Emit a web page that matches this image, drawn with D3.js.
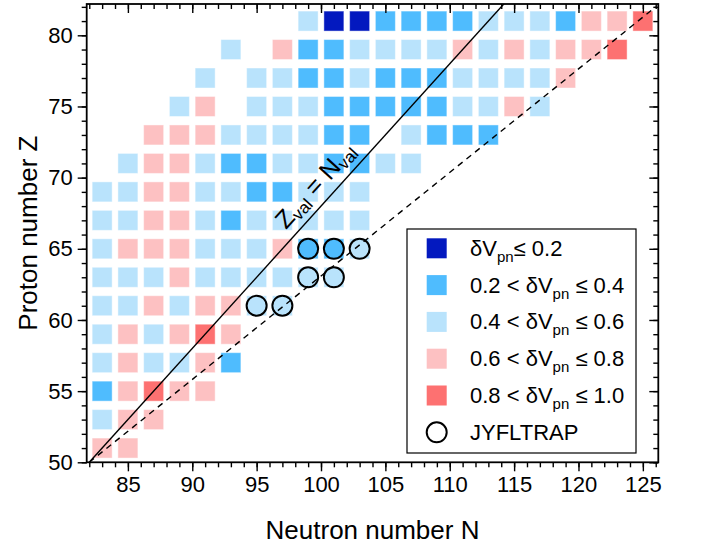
<!DOCTYPE html>
<html>
<head>
<meta charset="utf-8">
<script src="https://cdn.jsdelivr.net/npm/d3@7/dist/d3.min.js"></script>
<style>
  body { margin: 0; background: #fff; }
  svg { display: block; }
  text { font-family: "Liberation Sans", Arial, Helvetica, sans-serif; fill: #000; }
</style>
</head>
<body>
<svg id="chart" width="705" height="546"></svg>
<script>
// δVpn classes: 0 = ≤0.2, 1 = 0.2–0.4, 2 = 0.4–0.6, 3 = 0.6–0.8, 4 = 0.8–1.0
const binColors = ["#0319bf", "#4fbcfe", "#b9e3fc", "#fdc1c2", "#fd7171"];
const binLabels = [
  { pre: "δV", sub: "pn", post: "≤ 0.2" },
  { pre: "0.2 < δV", sub: "pn", post: " ≤ 0.4" },
  { pre: "0.4 < δV", sub: "pn", post: " ≤ 0.6" },
  { pre: "0.6 < δV", sub: "pn", post: " ≤ 0.8" },
  { pre: "0.8 < δV", sub: "pn", post: " ≤ 1.0" }
];

// Proton numbers of the rows and, for each row, [N, class] pairs
const rowZ = [81, 79, 77, 75, 73, 71, 69, 67, 65, 63, 61, 59, 57, 55, 53, 51];
const rowCells = [
  [[99,2],[101,0],[103,0],[105,1],[107,1],[109,1],[111,1],[113,2],[115,2],[117,2],[119,1],[121,3],[123,3],[125,4]],
  [[93,2],[97,3],[99,1],[101,1],[103,2],[105,2],[107,2],[109,2],[111,3],[113,2],[115,3],[117,2],[119,3],[121,3],[123,4]],
  [[91,2],[95,2],[97,2],[99,1],[101,1],[103,2],[105,1],[107,1],[109,1],[111,2],[113,2],[115,2],[117,2],[119,3]],
  [[89,2],[91,3],[95,2],[97,2],[99,2],[101,1],[103,1],[105,1],[107,1],[109,1],[111,2],[113,2],[115,3],[117,2]],
  [[87,3],[89,3],[91,3],[93,2],[95,2],[97,2],[99,2],[101,1],[103,1],[107,2],[109,1],[111,1],[113,1]],
  [[85,2],[87,3],[89,3],[91,2],[93,1],[95,1],[97,2],[99,2],[101,1],[103,1],[105,2],[107,2]],
  [[83,2],[85,2],[87,3],[89,3],[91,2],[93,2],[95,1],[97,1],[99,2],[101,2],[103,2]],
  [[83,2],[85,2],[87,3],[89,3],[91,2],[93,1],[95,2],[97,2],[99,2],[101,2],[103,2]],
  [[83,2],[85,3],[87,3],[89,3],[91,2],[93,2],[95,2],[97,3],[99,1],[101,1],[103,2]],
  [[83,2],[85,2],[87,2],[89,3],[91,2],[93,2],[95,2],[97,2],[99,2],[101,2]],
  [[83,2],[85,2],[87,3],[89,2],[91,3],[93,3],[95,2],[97,2]],
  [[83,2],[85,3],[87,2],[89,3],[91,4],[93,3]],
  [[83,2],[85,3],[87,2],[89,2],[91,3],[93,1]],
  [[83,1],[85,3],[87,4],[89,3],[91,3]],
  [[83,2],[85,3],[87,3]],
  [[83,3],[85,3]]
];

// Nuclides measured with JYFLTRAP: [N, Z]
const jyfltrap = [[99,65],[101,65],[103,65],[99,63],[101,63],[95,61],[97,61]];

// Axis ticks
const xMajorTicks = [85, 90, 95, 100, 105, 110, 115, 120, 125];
const yMajorTicks = [50, 55, 60, 65, 70, 75, 80];
const xMinorTicks = d3.range(82, 127);
const yMinorTicks = d3.range(50, 83);

// Shell closures bounding the valence space
const shellZ = [50, 82];
const shellN = [82, 126];

const cells = [];
rowZ.forEach((z, i) => rowCells[i].forEach(([n, b]) => cells.push({ N: n, Z: z, bin: b })));

const svg = d3.select("#chart");
const L = 86.7, R = 658.3, T = 4, B = 462.3;
const x = d3.scaleLinear().domain([81.8, 126.2]).range([L, R]);
const y = d3.scaleLinear().domain([50, 82.2]).range([B, T]);

svg.append("defs").append("clipPath").attr("id", "plot-clip")
  .append("rect").attr("x", L).attr("y", T).attr("width", R - L).attr("height", B - T);

const plot = svg.append("g").attr("clip-path", "url(#plot-clip)");

const side = 20;
plot.selectAll("rect.cell").data(cells).join("rect")
  .attr("class", "cell")
  .attr("x", d => x(d.N) - side / 2)
  .attr("y", d => y(d.Z) - side / 2)
  .attr("width", side).attr("height", side)
  .attr("fill", d => binColors[d.bin])
  .attr("stroke", "#fff").attr("stroke-opacity", 0.45).attr("stroke-width", 1);

// Zval = Nval (solid) and Zval/32 = Nval/44 (dashed)
plot.append("line")
  .attr("x1", x(shellN[0])).attr("y1", y(shellZ[0]))
  .attr("x2", x(shellN[0] + (shellZ[1] - shellZ[0]) + 1)).attr("y2", y(shellZ[1] + 1))
  .attr("stroke", "#000").attr("stroke-width", 1.4);
plot.append("line")
  .attr("x1", x(shellN[0])).attr("y1", y(shellZ[0]))
  .attr("x2", x(shellN[1])).attr("y2", y(shellZ[1]))
  .attr("stroke", "#000").attr("stroke-width", 1.4).attr("stroke-dasharray", "6,5");

plot.selectAll("circle.jyfl").data(jyfltrap).join("circle")
  .attr("class", "jyfl")
  .attr("cx", d => x(d[0])).attr("cy", d => y(d[1])).attr("r", 10)
  .attr("fill", "none").attr("stroke", "#000").attr("stroke-width", 2);

// Label along the Zval = Nval line
{
  const ang = Math.atan2(y(70) - y(60), x(102) - x(92)) * 180 / Math.PI;
  const px = x(100.6), py = y(68.6);
  const t = svg.append("text")
    .attr("transform", `translate(${px},${py}) rotate(${ang}) translate(0,-10)`)
    .attr("text-anchor", "middle").attr("font-size", 25);
  t.append("tspan").text("Z");
  t.append("tspan").attr("font-size", 17).attr("dy", 4).text("val");
  t.append("tspan").attr("dy", -4).text(" = N");
  t.append("tspan").attr("font-size", 17).attr("dy", 4).text("val");
}

// Axes: minor and major ticks on all four sides
function axisSet(gen, scale, vals, size, labels) {
  return gen(scale).tickValues(vals).tickSize(size).tickPadding(5)
    .tickFormat(labels ? d3.format("d") : () => "");
}
const tickW = 1.4;
function styleAxis(g, fs) {
  g.select(".domain").remove();
  g.selectAll(".tick line").attr("stroke", "#000").attr("stroke-width", tickW);
  g.selectAll(".tick text").attr("font-size", fs).attr("fill", "#000")
    .style("font-family", '"Liberation Sans", Arial, sans-serif');
}
const FS = 22;
svg.append("g").attr("transform", `translate(0,${B})`).call(axisSet(d3.axisBottom, x, xMinorTicks, 5, false)).call(styleAxis, FS);
svg.append("g").attr("transform", `translate(0,${B})`).call(axisSet(d3.axisBottom, x, xMajorTicks, 9, true)).call(styleAxis, FS);
svg.append("g").attr("transform", `translate(0,${T})`).call(axisSet(d3.axisBottom, x, xMinorTicks, 5, false)).call(styleAxis, FS);
svg.append("g").attr("transform", `translate(0,${T})`).call(axisSet(d3.axisBottom, x, xMajorTicks, 9, false)).call(styleAxis, FS);
svg.append("g").attr("transform", `translate(${L},0)`).call(axisSet(d3.axisLeft, y, yMinorTicks, 5, false)).call(styleAxis, FS);
svg.append("g").attr("transform", `translate(${L},0)`).call(axisSet(d3.axisLeft, y, yMajorTicks, 9, true)).call(styleAxis, FS);
svg.append("g").attr("transform", `translate(${R},0)`).call(axisSet(d3.axisLeft, y, yMinorTicks, 5, false)).call(styleAxis, FS);
svg.append("g").attr("transform", `translate(${R},0)`).call(axisSet(d3.axisLeft, y, yMajorTicks, 9, false)).call(styleAxis, FS);

svg.append("rect").attr("x", L).attr("y", T).attr("width", R - L).attr("height", B - T)
  .attr("fill", "none").attr("stroke", "#000").attr("stroke-width", 1.8);

// Axis titles
svg.append("text").attr("x", (L + R) / 2).attr("y", 539).attr("text-anchor", "middle")
  .attr("font-size", 26).text("Neutron number N");
svg.append("text").attr("transform", `translate(37,${(T + B) / 2}) rotate(-90)`)
  .attr("text-anchor", "middle").attr("font-size", 26).text("Proton number Z");

// Legend
const lg = svg.append("g");
const lgX = 407, lgY = 229, lgW = 229, lgH = 224, rowH = 36.8, firstRow = 248.3;
lg.append("rect").attr("x", lgX).attr("y", lgY).attr("width", lgW).attr("height", lgH)
  .attr("fill", "#fff").attr("stroke", "#000").attr("stroke-width", 1.2);
binLabels.forEach((lab, i) => {
  const cy = firstRow + i * rowH;
  lg.append("rect").attr("x", 436.7 - side / 2).attr("y", cy - side / 2)
    .attr("width", side).attr("height", side).attr("fill", binColors[i]);
  const t = lg.append("text").attr("x", 470).attr("y", cy + 7.5).attr("font-size", 22);
  t.append("tspan").text(lab.pre);
  t.append("tspan").attr("font-size", 15).attr("dy", 6).text(lab.sub);
  t.append("tspan").attr("dy", -6).text(lab.post);
});
{
  const cy = firstRow + 5 * rowH;
  lg.append("circle").attr("cx", 436.7).attr("cy", cy).attr("r", 10)
    .attr("fill", "none").attr("stroke", "#000").attr("stroke-width", 2);
  lg.append("text").attr("x", 470).attr("y", cy + 7.5).attr("font-size", 22).text("JYFLTRAP");
}
</script>
</body>
</html>
